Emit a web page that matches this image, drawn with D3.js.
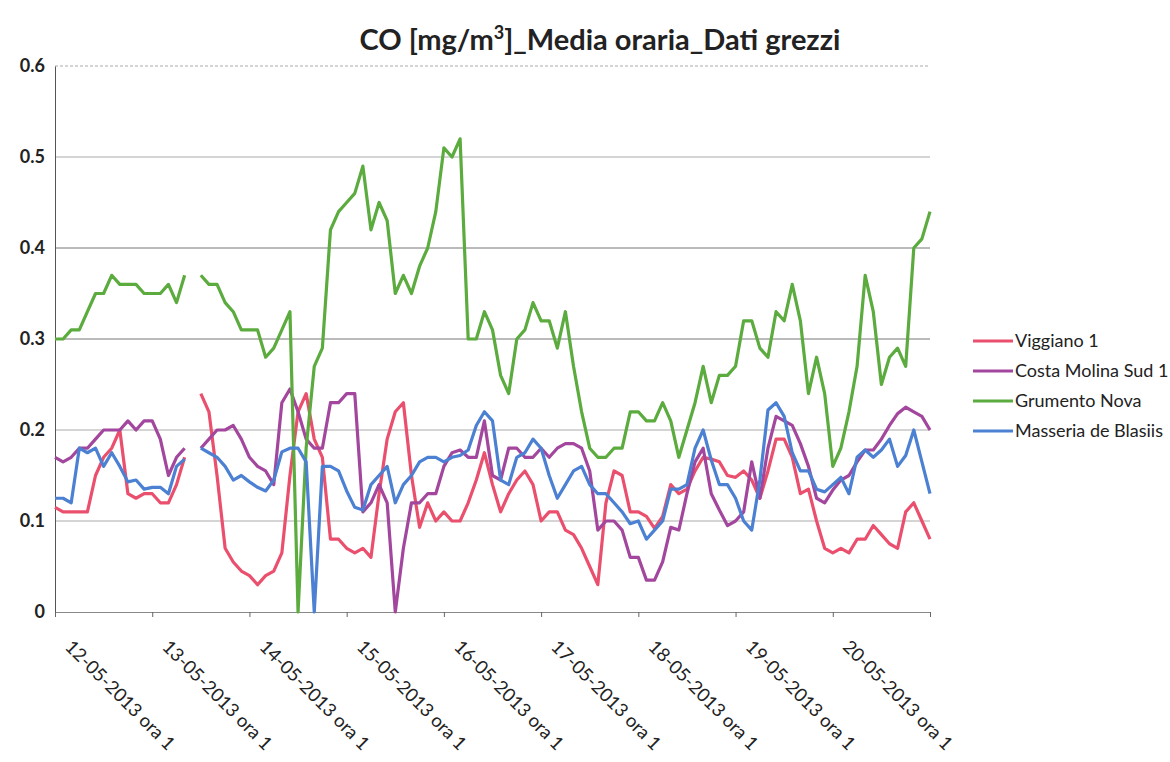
<!DOCTYPE html>
<html>
<head>
<meta charset="utf-8">
<script src="https://cdn.jsdelivr.net/npm/d3@7"></script>
<style>
  html, body { margin: 0; padding: 0; background: #fff; }
  svg { display: block; }
</style>
</head>
<body>
<svg id="chart" width="1170" height="762"></svg>
<script>
// Sample times: hours since 12-05-2013 ora 1 (every 2 hours)
const hours = d3.range(0, 217, 2);
const tickHours = [0, 24, 48, 72, 96, 120, 144, 168, 192, 216];
const tickLabels = ["12-05-2013 ora 1", "13-05-2013 ora 1", "14-05-2013 ora 1", "15-05-2013 ora 1",
  "16-05-2013 ora 1", "17-05-2013 ora 1", "18-05-2013 ora 1", "19-05-2013 ora 1", "20-05-2013 ora 1"];
const yTicks = [0, 0.1, 0.2, 0.3, 0.4, 0.5, 0.6];
const seriesNames = ["Viggiano 1", "Costa Molina Sud 1", "Grumento Nova", "Masseria de Blasiis"];
const seriesColors = ["#ea4f6d", "#a2479d", "#5bab3e", "#4b80d2"];

const viggiano = [0.115,0.11,0.11,0.11,0.11,0.15,0.17,0.18,0.20,0.13,
  0.125,0.13,0.13,0.12,0.12,0.14,0.17,null,0.24,0.22,
  0.15,0.07,0.055,0.045,0.04,0.03,0.04,0.045,0.065,0.15,
  0.22,0.24,0.19,0.17,0.08,0.08,0.07,0.065,0.07,0.06,
  0.13,0.19,0.22,0.23,0.15,0.093,0.12,0.10,0.11,0.10,
  0.10,0.12,0.145,0.175,0.14,0.11,0.13,0.145,0.155,0.14,
  0.10,0.11,0.11,0.09,0.085,0.07,0.05,0.03,0.12,0.155,
  0.15,0.11,0.11,0.105,0.092,0.105,0.14,0.13,0.135,0.155,
  0.17,0.168,0.165,0.15,0.148,0.155,0.145,0.125,0.155,0.19,
  0.19,0.17,0.13,0.135,0.10,0.07,0.065,0.07,0.065,0.08,
  0.08,0.095,0.085,0.075,0.07,0.11,0.12,0.10,0.08];

const costaMolina = [0.17,0.165,0.17,0.18,0.18,0.19,0.20,0.20,0.20,0.21,
  0.20,0.21,0.21,0.19,0.15,0.17,0.18,null,0.18,0.19,
  0.20,0.20,0.205,0.19,0.17,0.16,0.155,0.14,0.23,0.245,
  0.22,0.19,0.18,0.18,0.23,0.23,0.24,0.24,0.11,0.12,
  0.14,0.12,0.0,0.07,0.12,0.12,0.13,0.13,0.16,0.175,
  0.178,0.17,0.17,0.21,0.15,0.145,0.18,0.18,0.17,0.17,
  0.18,0.17,0.18,0.185,0.185,0.18,0.155,0.09,0.10,0.10,
  0.09,0.06,0.06,0.035,0.035,0.055,0.093,0.09,0.13,0.165,
  0.18,0.13,0.112,0.095,0.10,0.11,0.165,0.125,0.18,0.215,
  0.21,0.205,0.185,0.16,0.125,0.12,0.134,0.145,0.15,0.165,
  0.178,0.178,0.19,0.205,0.218,0.225,0.22,0.215,0.20];

const grumento = [0.30,0.30,0.31,0.31,0.33,0.35,0.35,0.37,0.36,0.36,
  0.36,0.35,0.35,0.35,0.36,0.34,0.37,null,0.37,0.36,
  0.36,0.34,0.33,0.31,0.31,0.31,0.28,0.29,0.31,0.33,
  0.0,0.18,0.27,0.29,0.42,0.44,0.45,0.46,0.49,0.42,
  0.45,0.43,0.35,0.37,0.35,0.38,0.40,0.44,0.51,0.50,
  0.52,0.30,0.30,0.33,0.31,0.26,0.24,0.30,0.31,0.34,
  0.32,0.32,0.29,0.33,0.27,0.22,0.18,0.17,0.17,0.18,
  0.18,0.22,0.22,0.21,0.21,0.23,0.21,0.17,0.20,0.23,
  0.27,0.23,0.26,0.26,0.27,0.32,0.32,0.29,0.28,0.33,
  0.32,0.36,0.32,0.24,0.28,0.24,0.16,0.18,0.22,0.27,
  0.37,0.33,0.25,0.28,0.29,0.27,0.40,0.41,0.44];

const masseria = [0.125,0.125,0.12,0.18,0.175,0.18,0.16,0.175,0.16,0.143,
  0.145,0.135,0.137,0.137,0.13,0.16,0.168,null,0.18,0.175,
  0.17,0.16,0.145,0.15,0.143,0.137,0.133,0.145,0.176,0.18,
  0.18,0.165,0.0,0.16,0.16,0.155,0.133,0.115,0.112,0.14,
  0.15,0.16,0.12,0.14,0.15,0.165,0.17,0.17,0.165,0.17,
  0.172,0.178,0.205,0.22,0.21,0.145,0.14,0.17,0.175,0.19,
  0.18,0.15,0.125,0.14,0.155,0.16,0.14,0.13,0.13,0.12,
  0.11,0.097,0.10,0.08,0.09,0.10,0.135,0.135,0.14,0.18,
  0.20,0.167,0.14,0.14,0.125,0.10,0.09,0.145,0.222,0.23,
  0.215,0.175,0.155,0.155,0.135,0.132,0.14,0.148,0.13,0.17,
  0.178,0.17,0.178,0.19,0.16,0.172,0.20,0.165,0.13];

const seriesValues = [viggiano, costaMolina, grumento, masseria];

const svg = d3.select("#chart");
const plotLeft = 55, plotRight = 930, plotTop = 66, plotBottom = 612;

const x = d3.scaleLinear().domain([0, 216]).range([plotLeft, plotRight]);
const y = d3.scaleLinear().domain([0, 0.6]).range([plotBottom, plotTop]);

// Title
const title = svg.append("text")
  .attr("x", 600).attr("y", 50)
  .attr("text-anchor", "middle")
  .attr("font-family", "Lato, 'Open Sans', sans-serif")
  .attr("font-weight", "bold")
  .attr("font-size", 29)
  .attr("fill", "#222");
title.append("tspan").text("CO [mg/m");
title.append("tspan").attr("dy", -11).attr("font-size", 18).text("3");
title.append("tspan").attr("dy", 11).text("]_Media oraria_Dati grezzi");

// Gridlines
svg.append("g")
  .selectAll("line")
  .data(yTicks.filter(d => d > 0))
  .join("line")
  .attr("x1", plotLeft).attr("x2", plotRight)
  .attr("y1", d => y(d)).attr("y2", d => y(d))
  .attr("stroke", d => (d === 0.3 || d === 0.4) ? "#777" : "#aaa")
  .attr("stroke-width", 1)
  .attr("stroke-dasharray", d => d === 0.6 ? "3,2" : null);

// Y axis
const yAxis = svg.append("g")
  .attr("transform", `translate(${plotLeft},0)`)
  .call(d3.axisLeft(y).tickValues(yTicks).tickSize(0).tickPadding(10).tickFormat(d3.format("")));
yAxis.select(".domain").attr("stroke", "#555");
yAxis.selectAll("text")
  .attr("font-family", "Lato, sans-serif")
  .attr("font-weight", "bold")
  .attr("font-size", 18)
  .attr("fill", "#222");

// X axis
const xAxis = svg.append("g")
  .attr("transform", `translate(0,${plotBottom})`)
  .call(d3.axisBottom(x).tickValues(tickHours).tickSize(5).tickFormat(""));
xAxis.select(".domain").attr("stroke", "#888");
xAxis.selectAll(".tick line").attr("stroke", "#666");

svg.append("g")
  .selectAll("text")
  .data(tickLabels)
  .join("text")
  .attr("transform", (d, i) => `translate(${x(tickHours[i]) + 9},${plotBottom + 36}) rotate(45)`)
  .attr("font-family", "Lato, 'Open Sans', sans-serif")
  .attr("font-size", 18.5)
  .attr("fill", "#222")
  .text(d => d);

// Lines
const line = d3.line()
  .defined(d => d.v !== null)
  .x(d => x(d.h))
  .y(d => y(d.v));

svg.append("g")
  .selectAll("path")
  .data(seriesValues)
  .join("path")
  .attr("d", vals => line(vals.map((v, i) => ({ h: hours[i], v: v }))))
  .attr("fill", "none")
  .attr("stroke", (d, i) => seriesColors[i])
  .attr("stroke-width", 3.2)
  .attr("stroke-linejoin", "round");

// Legend
const legend = svg.append("g");
seriesNames.forEach((name, i) => {
  const ly = 341 + i * 30;
  legend.append("line")
    .attr("x1", 973).attr("x2", 1013)
    .attr("y1", ly).attr("y2", ly)
    .attr("stroke", seriesColors[i]).attr("stroke-width", 3);
  legend.append("text")
    .attr("x", 1015).attr("y", ly + 6)
    .attr("font-family", "Lato, 'Open Sans', sans-serif")
    .attr("font-size", 18)
    .attr("fill", "#222")
    .text(name);
});
</script>
</body>
</html>
